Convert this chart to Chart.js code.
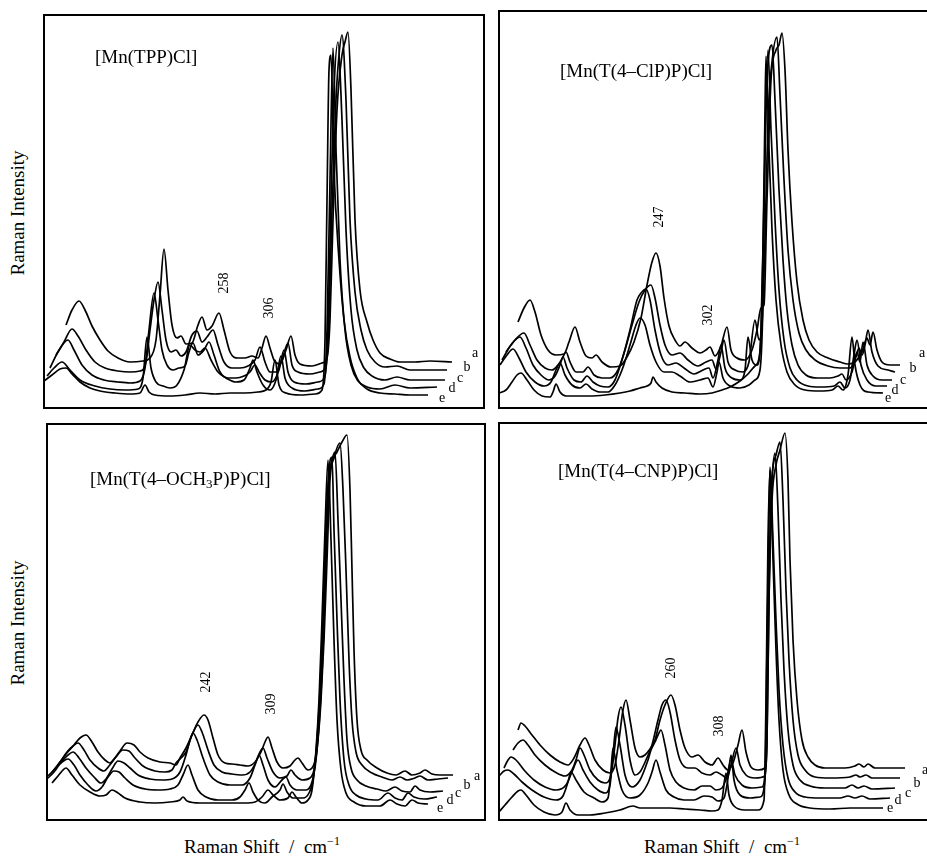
<!DOCTYPE html>
<html>
<head>
<meta charset="utf-8">
<script src="https://cdn.jsdelivr.net/npm/chart.js@4"></script>
<style>
  body { margin: 0; background: #fff; overflow: hidden; width: 927px; height: 856px; position: relative;
         font-family: "Liberation Serif", serif; color: #000; }
  canvas { position: absolute; }
  .ylab { position: absolute; font-size: 19px; white-space: nowrap; transform: translate(-50%, -50%) rotate(-90deg); }
  .xlab { position: absolute; font-size: 19px; white-space: nowrap; transform: translate(-50%, -50%); }
  .xlab sup { font-size: 12px; }
</style>
</head>
<body>
<canvas id="tppChart" width="442" height="395" style="left:43px;top:14px"></canvas>
<canvas id="clpChart" width="442" height="399" style="left:498px;top:10px"></canvas>
<canvas id="och3Chart" width="440" height="398" style="left:46px;top:423px"></canvas>
<canvas id="cnpChart" width="442" height="399" style="left:498px;top:422px"></canvas>

<div class="ylab" style="left:18px;top:213px">Raman Intensity</div>
<div class="ylab" style="left:18px;top:623px">Raman Intensity</div>
<div class="xlab" style="left:262px;top:846px">Raman Shift &nbsp;/&nbsp; cm<sup>−1</sup></div>
<div class="xlab" style="left:722px;top:846px">Raman Shift &nbsp;/&nbsp; cm<sup>−1</sup></div>

<script>
// spectra a..e, [shift (a.u.), intensity (a.u.)], offsets as in the stacked plot
const traceNames = ['a', 'b', 'c', 'd', 'e'];

// [Mn(TPP)Cl]
const tppA = [[23,84],[29,99],[36,108],[42,99],[49,83],[57,69],[65,58],[75,51],[87,47],[100,48],[107,51],[113,69],[117,114],[121,160],[125,119],[129,84],[134,71],[138,73],[143,65],[149,66],[155,84],[159,92],[164,79],[169,83],[176,96],[181,79],[187,57],[195,51],[202,51],[209,53],[215,51],[219,61],[223,73],[227,61],[231,49],[237,45],[243,59],[248,73],[252,54],[257,45],[269,43],[279,46],[284,51],[287,89],[290,189],[294,299],[299,354],[302,367],[305,377],[308,319],[312,189],[317,119],[324,87],[330,69],[337,56],[347,50],[357,47],[372,47],[387,48],[409,47]];
const tppB = [[13,54],[21,67],[29,80],[35,73],[43,59],[52,47],[62,41],[75,38],[87,37],[97,38],[103,47],[107,79],[111,109],[115,127],[119,99],[123,69],[128,57],[133,59],[138,53],[143,57],[149,74],[154,78],[159,67],[164,72],[170,79],[175,64],[181,47],[189,41],[197,41],[205,43],[212,49],[217,62],[222,47],[227,37],[233,37],[239,49],[245,66],[249,44],[255,37],[267,35],[277,37],[283,43],[286,89],[289,199],[293,309],[296,354],[299,374],[303,309],[307,189],[312,117],[318,79],[324,59],[332,47],[342,42],[354,43],[367,39],[387,39],[404,39]];
const tppC = [[7,41],[15,57],[25,69],[31,59],[39,44],[49,34],[61,29],[75,27],[87,26],[97,28],[102,41],[106,79],[111,116],[115,89],[119,59],[124,44],[130,39],[136,41],[142,43],[146,57],[150,66],[155,54],[161,59],[166,67],[171,54],[177,37],[185,31],[193,31],[201,33],[207,37],[212,44],[216,37],[222,29],[229,27],[236,39],[241,59],[245,37],[251,27],[263,25],[275,27],[282,33],[285,79],[288,209],[291,319],[295,367],[299,289],[303,179],[308,99],[314,59],[321,41],[329,33],[342,29],[354,32],[367,29],[402,29]];
const tppD = [[4,33],[11,41],[19,47],[27,39],[37,29],[52,23],[67,20],[82,19],[95,20],[100,31],[104,72],[108,41],[113,27],[120,23],[127,21],[134,24],[141,39],[147,64],[152,59],[157,57],[162,61],[168,49],[175,37],[183,31],[193,27],[201,29],[207,41],[210,49],[214,37],[220,24],[227,19],[233,29],[238,53],[242,31],[249,21],[262,18],[275,20],[281,25],[284,79],[287,229],[290,361],[293,259],[297,149],[302,79],[308,44],[315,28],[324,22],[337,20],[352,24],[367,21],[394,22]];
const tppE = [[1,28],[9,34],[17,40],[23,41],[29,35],[37,27],[47,21],[57,18],[72,16],[87,15],[97,16],[102,24],[106,17],[112,14],[127,13],[142,14],[157,16],[172,15],[187,16],[202,16],[215,17],[223,19],[228,27],[232,49],[236,24],[243,16],[257,14],[272,15],[279,19],[282,69],[284,209],[286,339],[288,354],[291,239],[296,149],[301,89],[307,52],[314,31],[324,20],[337,16],[352,15],[367,14],[385,14]];

// [Mn(T(4-ClP)P)Cl]
const clpA = [[20,87],[26,101],[32,109],[37,97],[43,74],[50,59],[58,54],[66,55],[71,67],[77,82],[82,67],[88,53],[94,51],[98,54],[104,47],[113,42],[122,43],[129,52],[136,67],[143,91],[149,124],[154,147],[158,156],[162,143],[166,111],[171,83],[177,69],[182,63],[187,67],[194,61],[202,56],[208,59],[212,62],[217,53],[223,63],[229,82],[233,59],[239,51],[247,49],[254,59],[259,79],[263,101],[266,104],[269,209],[273,329],[278,359],[281,364],[284,376],[287,339],[290,259],[294,187],[299,127],[305,89],[311,69],[319,57],[330,51],[342,47],[350,45],[357,47],[364,57],[369,71],[372,64],[375,77],[379,59],[384,47],[392,44],[402,44]];
const clpB = [[8,57],[17,69],[26,76],[32,64],[39,49],[47,41],[54,39],[60,44],[65,52],[68,57],[72,47],[78,37],[85,37],[90,42],[96,34],[104,31],[112,31],[120,39],[127,59],[134,84],[141,107],[147,119],[153,124],[157,111],[162,84],[167,64],[174,54],[182,56],[190,49],[200,43],[208,47],[214,49],[218,40],[223,57],[226,69],[230,47],[237,39],[245,37],[251,47],[257,89],[261,69],[264,84],[267,169],[270,289],[274,347],[279,372],[282,314],[286,229],[290,159],[295,109],[301,76],[308,59],[317,49],[330,43],[342,41],[352,41],[357,49],[361,61],[364,54],[367,64],[370,79],[374,57],[380,43],[390,39],[397,37]];
const clpC = [[4,49],[13,64],[22,72],[28,61],[35,44],[43,34],[51,29],[57,33],[62,44],[65,52],[69,41],[76,29],[83,27],[89,33],[95,27],[102,23],[110,22],[117,29],[124,49],[132,79],[139,109],[143,116],[148,120],[152,109],[157,79],[163,54],[170,44],[178,46],[186,41],[196,35],[205,39],[211,41],[215,31],[220,49],[223,64],[227,41],[234,31],[242,29],[247,39],[250,72],[254,49],[259,44],[263,79],[266,209],[269,329],[274,364],[277,309],[281,219],[285,149],[289,99],[294,64],[300,44],[308,34],[320,31],[332,31],[340,33],[344,35],[348,29],[354,37],[359,57],[362,47],[365,67],[369,44],[375,33],[384,29],[394,29]];
const clpD = [[2,44],[9,54],[15,60],[21,51],[28,37],[37,27],[46,23],[53,27],[58,39],[62,46],[67,34],[74,24],[82,21],[88,25],[94,20],[102,17],[110,17],[117,24],[124,39],[132,64],[138,84],[142,91],[147,84],[152,64],[158,47],[166,37],[174,37],[182,33],[192,27],[202,29],[210,31],[215,22],[219,37],[221,47],[225,31],[232,23],[242,21],[251,24],[257,29],[262,39],[265,109],[267,259],[270,359],[273,279],[277,189],[281,119],[286,69],[292,41],[299,29],[310,23],[322,22],[336,23],[342,27],[347,21],[352,29],[356,54],[359,69],[363,44],[369,29],[378,23],[389,23]];
const clpE = [[1,16],[8,19],[14,27],[19,34],[23,36],[29,29],[36,19],[44,13],[52,12],[55,17],[58,25],[62,17],[68,13],[77,13],[92,13],[107,14],[122,16],[132,18],[142,21],[149,23],[153,26],[155,32],[158,27],[164,21],[174,17],[187,16],[202,15],[214,16],[224,19],[232,22],[242,28],[250,35],[257,43],[262,57],[265,159],[267,299],[268,353],[271,259],[274,179],[278,109],[283,64],[289,37],[297,24],[307,19],[322,18],[334,19],[340,23],[345,19],[350,34],[354,72],[357,44],[362,24],[370,17],[385,16]];

// [Mn(T(4-OCH3P)P)Cl]
const och3A = [[12,56],[20,67],[28,76],[34,83],[40,86],[46,79],[52,69],[59,61],[64,58],[68,62],[74,70],[81,78],[88,76],[94,69],[102,63],[114,59],[124,58],[130,56],[134,63],[140,73],[146,86],[152,99],[158,106],[162,101],[167,83],[172,66],[179,58],[186,57],[194,56],[202,55],[209,59],[215,69],[219,79],[222,84],[226,73],[231,59],[237,53],[244,55],[249,61],[252,63],[256,58],[262,51],[266,53],[270,66],[273,101],[276,161],[279,251],[282,331],[286,359],[291,369],[296,379],[301,386],[304,331],[306,251],[308,171],[311,101],[315,71],[321,61],[331,53],[341,48],[350,46],[359,50],[366,46],[374,48],[379,51],[386,47],[394,46],[407,46]];
const och3B = [[6,49],[14,59],[21,69],[27,75],[32,78],[38,71],[44,61],[52,53],[58,50],[63,55],[70,64],[77,71],[83,70],[89,63],[97,55],[109,50],[119,49],[126,51],[130,58],[135,63],[140,69],[146,86],[152,96],[156,89],[162,71],[168,56],[176,49],[186,47],[196,46],[204,49],[210,59],[214,69],[217,73],[221,63],[227,49],[234,43],[241,45],[245,51],[249,46],[256,41],[264,43],[268,51],[272,81],[275,121],[278,181],[281,261],[284,341],[288,363],[294,378],[297,331],[300,251],[303,161],[306,101],[310,69],[316,56],[326,48],[336,44],[346,41],[354,44],[361,41],[369,43],[374,45],[382,41],[392,42],[402,43]];
const och3C = [[2,45],[10,53],[17,61],[22,66],[27,69],[33,63],[40,53],[48,44],[55,38],[60,42],[66,52],[72,60],[78,58],[84,53],[92,46],[104,42],[116,41],[126,42],[134,49],[140,66],[144,81],[147,88],[151,81],[157,63],[164,46],[172,39],[184,36],[196,36],[204,43],[209,56],[213,66],[217,56],[222,41],[229,34],[236,41],[240,44],[244,36],[251,31],[260,31],[266,39],[270,61],[274,111],[277,171],[280,261],[283,341],[286,361],[289,369],[292,301],[295,221],[298,141],[301,81],[305,53],[311,41],[320,35],[331,32],[340,30],[349,34],[356,30],[364,29],[369,35],[374,31],[384,29],[397,30]];
const och3D = [[1,42],[8,49],[14,57],[19,61],[22,62],[28,56],[34,46],[42,36],[50,30],[56,34],[62,44],[68,50],[73,49],[79,43],[87,36],[99,32],[112,31],[124,32],[132,36],[137,46],[142,56],[146,46],[152,31],[160,24],[172,21],[186,21],[194,24],[199,31],[203,38],[207,29],[212,21],[219,18],[226,24],[234,31],[237,37],[241,29],[247,23],[257,23],[263,28],[267,41],[271,81],[274,131],[277,201],[280,291],[283,351],[286,364],[288,291],[291,201],[294,121],[298,61],[303,36],[310,26],[320,22],[332,21],[342,28],[349,23],[356,21],[362,28],[368,24],[378,22],[391,24]];
const och3E = [[6,38],[12,45],[17,51],[20,53],[26,46],[34,36],[44,29],[54,25],[60,26],[66,31],[72,28],[79,23],[94,19],[109,18],[124,19],[134,21],[137,24],[141,20],[154,18],[169,18],[184,18],[199,18],[209,19],[216,24],[222,31],[227,26],[234,21],[242,23],[246,29],[250,24],[256,18],[262,21],[266,31],[270,71],[273,121],[276,201],[279,291],[282,361],[285,281],[288,181],[291,101],[295,51],[300,28],[308,19],[320,15],[334,15],[344,21],[351,17],[359,15],[366,21],[372,18],[382,17]];

// [Mn(T(4-CNP)P)Cl]
const cnpA = [[20,91],[23,98],[27,95],[34,86],[42,76],[52,66],[62,59],[70,56],[76,63],[82,76],[87,83],[91,76],[97,61],[105,51],[112,48],[117,56],[121,81],[125,111],[128,121],[132,101],[137,73],[142,64],[147,66],[152,72],[157,81],[162,101],[167,116],[173,126],[177,116],[182,91],[187,73],[194,64],[200,66],[207,59],[214,56],[220,63],[225,56],[230,51],[235,58],[240,76],[244,91],[248,69],[253,54],[260,51],[267,53],[269,81],[271,221],[274,321],[278,356],[282,371],[287,388],[290,341],[292,261],[295,181],[299,121],[304,81],[310,64],[317,56],[327,53],[347,53],[357,55],[361,57],[366,54],[370,57],[377,53],[392,53],[407,53]];
const cnpB = [[15,71],[20,78],[25,81],[30,76],[37,66],[47,56],[57,49],[67,45],[74,51],[78,61],[82,73],[86,66],[92,51],[100,41],[107,38],[113,46],[117,76],[120,103],[123,114],[127,96],[132,61],[137,46],[142,49],[148,61],[154,76],[160,101],[164,116],[168,121],[172,109],[177,81],[182,61],[190,53],[197,53],[204,48],[212,46],[218,49],[224,46],[229,43],[233,56],[238,73],[242,56],[248,46],[257,43],[267,45],[269,81],[271,221],[274,341],[278,366],[282,379],[285,321],[288,231],[291,161],[295,101],[300,66],[307,51],[317,44],[332,43],[352,44],[358,46],[362,44],[368,46],[374,43],[387,43],[402,43]];
const cnpC = [[6,53],[10,61],[13,64],[18,61],[26,51],[36,41],[47,34],[58,31],[68,36],[74,49],[80,61],[85,51],[92,39],[100,31],[107,28],[112,36],[115,66],[118,94],[122,76],[127,46],[134,34],[142,41],[150,61],[153,71],[157,79],[160,86],[163,91],[167,76],[172,51],[178,39],[186,33],[196,31],[204,35],[212,35],[218,31],[224,33],[229,45],[233,61],[237,46],[244,36],[254,33],[264,34],[268,61],[270,201],[273,321],[277,368],[280,311],[283,221],[286,151],[290,91],[295,56],[302,41],[312,35],[327,33],[347,33],[354,36],[360,33],[366,35],[374,32],[397,33]];
const cnpD = [[1,45],[6,50],[10,51],[16,47],[24,39],[34,31],[46,24],[58,21],[65,25],[70,39],[73,49],[78,41],[86,29],[96,23],[104,19],[110,23],[113,51],[115,73],[119,51],[124,31],[132,23],[142,26],[150,38],[154,49],[158,61],[162,49],[168,31],[176,24],[186,21],[196,21],[206,25],[214,24],[220,20],[226,23],[230,43],[233,66],[236,41],[242,26],[252,23],[262,24],[267,41],[269,171],[271,301],[272,354],[275,281],[278,201],[281,131],[285,76],[290,43],[297,29],[307,24],[322,23],[342,23],[350,25],[357,23],[364,25],[372,22],[392,23]];
const cnpE = [[1,9],[7,16],[14,24],[20,30],[23,31],[28,26],[36,16],[46,9],[57,6],[64,9],[68,18],[72,11],[80,6],[92,6],[107,8],[122,11],[135,15],[142,13],[157,13],[172,13],[187,12],[202,11],[214,10],[220,11],[224,21],[228,48],[231,26],[236,15],[247,11],[260,11],[266,21],[268,121],[270,281],[272,351],[275,261],[278,171],[281,101],[285,51],[291,26],[299,17],[312,13],[332,12],[352,13],[367,13],[385,13]];

// titles and peak labels
const tppTitle = [{ t: '[Mn(TPP)Cl]' }];
const clpTitle = [{ t: '[Mn(T(4–ClP)P)Cl]' }];
const och3Title = [{ t: '[Mn(T(4–OCH' }, { t: '3', sub: true }, { t: 'P)P)Cl]' }];
const cnpTitle = [{ t: '[Mn(T(4–CNP)P)Cl]' }];

const tppPeaks = ['258', '306'];
const clpPeaks = ['247', '302'];
const och3Peaks = ['242', '309'];
const cnpPeaks = ['260', '308'];

const serif = '"Liberation Serif", "Times New Roman", serif';

const panelText = {
  id: 'panelText',
  afterDraw(chart, args, o) {
    const { ctx, chartArea: a, scales: { x, y } } = chart;
    ctx.save();
    ctx.strokeStyle = '#000';
    ctx.lineWidth = 2;
    ctx.strokeRect(a.left + 1, a.top + 1, a.width - 2, a.height - 2);
    ctx.fillStyle = '#000';
    ctx.textBaseline = 'middle';

    // compound name
    let px = x.getPixelForValue(o.titleAt[0]);
    const py = y.getPixelForValue(o.titleAt[1]);
    o.title.forEach(part => {
      ctx.font = (part.sub ? '13px ' : '19px ') + serif;
      ctx.fillText(part.t, px, py + (part.sub ? 5 : 0));
      px += ctx.measureText(part.t).width;
    });

    // band positions, written sideways
    ctx.font = '14px ' + serif;
    ctx.textAlign = 'center';
    o.peaks.forEach((txt, i) => {
      ctx.save();
      ctx.translate(x.getPixelForValue(o.peakAt[i][0]), y.getPixelForValue(o.peakAt[i][1]));
      ctx.rotate(-Math.PI / 2);
      ctx.fillText(txt, 0, 0);
      ctx.restore();
    });

    // trace letters at the right end
    ctx.font = '14px ' + serif;
    o.letterAt.forEach((p, i) => {
      ctx.fillText(traceNames[i], x.getPixelForValue(p[0]), y.getPixelForValue(p[1]));
    });
    ctx.restore();
  }
};

function makePanel(id, traces, text) {
  const canvas = document.getElementById(id);
  return new Chart(canvas.getContext('2d'), {
    type: 'line',
    data: {
      datasets: traces.map((t, i) => ({
        label: traceNames[i],
        data: t,
        borderColor: '#000',
        borderWidth: 1.7,
        pointRadius: 0,
        fill: false,
        cubicInterpolationMode: 'monotone'
      }))
    },
    options: {
      responsive: false,
      animation: false,
      events: [],
      layout: { padding: 0 },
      plugins: {
        legend: { display: false },
        tooltip: { enabled: false },
        panelText: text
      },
      scales: {
        x: { type: 'linear', min: 0, max: canvas.width, display: false },
        y: { type: 'linear', min: 0, max: canvas.height, display: false }
      }
    },
    plugins: [panelText]
  });
}

makePanel('tppChart', [tppA, tppB, tppC, tppD, tppE], {
  title: tppTitle, titleAt: [52, 351],
  peaks: tppPeaks, peakAt: [[181, 126], [226, 101]],
  letterAt: [[432, 56], [424, 42], [417, 31], [409, 21], [399, 11]]
});
makePanel('clpChart', [clpA, clpB, clpC, clpD, clpE], {
  title: clpTitle, titleAt: [62, 337],
  peaks: clpPeaks, peakAt: [[161, 192], [210, 94]],
  letterAt: [[424, 56], [415, 41], [405, 29], [397, 19], [390, 11]]
});
makePanel('och3Chart', [och3A, och3B, och3C, och3D, och3E], {
  title: och3Title, titleAt: [44, 341],
  peaks: och3Peaks, peakAt: [[160, 139], [225, 117]],
  letterAt: [[431, 45], [421, 36], [412, 28], [404, 21], [394, 13]]
});
makePanel('cnpChart', [cnpA, cnpB, cnpC, cnpD, cnpE], {
  title: cnpTitle, titleAt: [60, 349],
  peaks: cnpPeaks, peakAt: [[173, 153], [221, 95]],
  letterAt: [[427, 51], [419, 38], [410, 28], [400, 21], [392, 13]]
});
</script>
</body>
</html>
